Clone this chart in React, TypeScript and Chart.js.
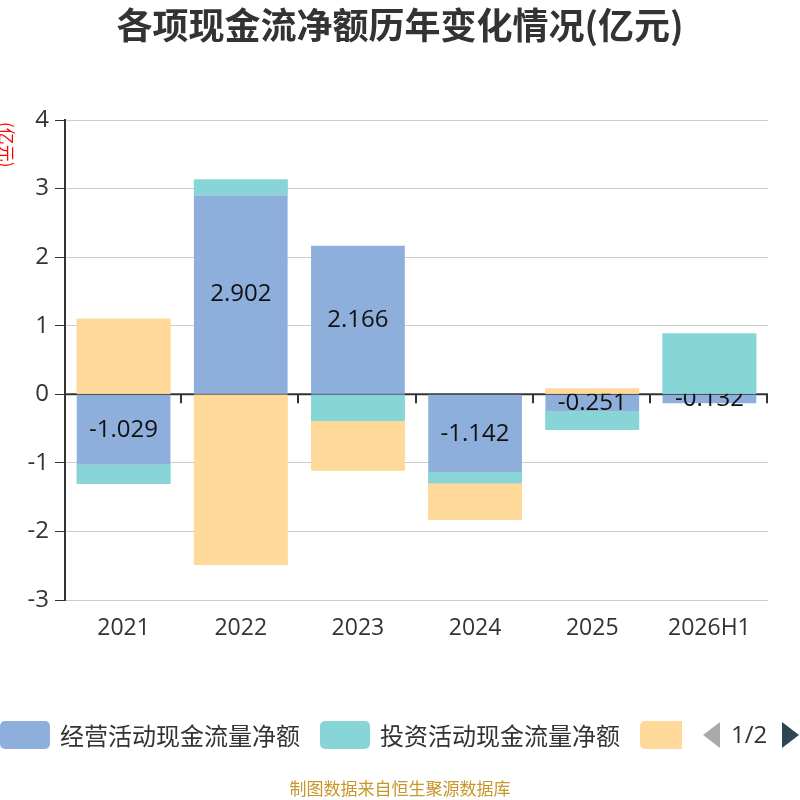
import React, { useEffect, useRef } from "react";
import { Chart, registerables } from "chart.js";

Chart.register(...registerables);

const categories = ["2021", "2022", "2023", "2024", "2025", "2026H1"];
const operating = [-1.029, 2.902, 2.166, -1.142, -0.251, -0.132];
const investing = [-0.28, 0.23, -0.39, -0.16, -0.27, 0.885];
const financing = [1.1, -2.49, -0.72, -0.53, 0.083, 0];
const seriesNames = ["经营活动现金流量净额", "投资活动现金流量净额", "筹资活动现金流量净额"];
const seriesColors = ["#8EAFDB", "#88D5D8", "#FFD99A"];
const titleText = "各项现金流净额历年变化情况(亿元)";
const unitText = "(亿元)";
const sourceText = "制图数据来自恒生聚源数据库";
const yMin = -3;
const yMax = 4;

const FONT = "'Open Sans', 'Noto Sans CJK SC', sans-serif";
const CJK = "'Noto Sans CJK SC', 'Open Sans', sans-serif";

const decorPlugin = {
  id: "decor",
  beforeDatasetsDraw(chart: any) {
    const { ctx, chartArea, scales } = chart;
    const y0 = scales.y.getPixelForValue(0);
    ctx.save();
    ctx.strokeStyle = "#333";
    ctx.lineWidth = 2;
    ctx.beginPath();
    ctx.moveTo(chartArea.left, y0);
    ctx.lineTo(chartArea.right, y0);
    ctx.stroke();
    const n = categories.length;
    const w = (chartArea.right - chartArea.left) / n;
    for (let i = 1; i <= n; i++) {
      const x = Math.round(chartArea.left + i * w) - 1;
      ctx.beginPath();
      ctx.moveTo(x, y0);
      ctx.lineTo(x, y0 + 9);
      ctx.stroke();
    }
    ctx.restore();
  },
  afterDatasetsDraw(chart: any) {
    const { ctx } = chart;
    const meta = chart.getDatasetMeta(0);
    ctx.save();
    ctx.font = `24px ${FONT}`;
    ctx.fillStyle = "#111";
    ctx.textAlign = "center";
    ctx.textBaseline = "middle";
    meta.data.forEach((bar: any, i: number) => {
      const cy = (bar.y + bar.base) / 2;
      ctx.fillText(operating[i].toFixed(3), bar.x, cy);
    });
    ctx.restore();
    chart.getDatasetMeta(1).controller.draw();
    chart.getDatasetMeta(2).controller.draw();
  },
  afterDraw(chart: any) {
    const { ctx } = chart;
    ctx.save();
    ctx.font = `bold 36px ${CJK}`;
    ctx.fillStyle = "#333";
    ctx.textAlign = "center";
    ctx.textBaseline = "middle";
    ctx.fillText(titleText, 400, 25);
    ctx.translate(6, 122);
    ctx.rotate(Math.PI / 2);
    ctx.font = `17px ${CJK}`;
    ctx.fillStyle = "#f00";
    ctx.textAlign = "left";
    ctx.textBaseline = "middle";
    ctx.fillText(unitText, 0, 0);
    ctx.restore();
  },
};

export default function App() {
  const ref = useRef<HTMLCanvasElement>(null);
  useEffect(() => {
    if (!ref.current) return;
    const chart = new Chart(ref.current, {
      type: "bar",
      data: {
        labels: categories,
        datasets: [
          { label: seriesNames[0], data: operating, backgroundColor: seriesColors[0], borderWidth: 0 },
          { label: seriesNames[1], data: investing, backgroundColor: seriesColors[1], borderWidth: 0 },
          { label: seriesNames[2], data: financing, backgroundColor: seriesColors[2], borderWidth: 0 },
        ],
      },
      options: {
        responsive: false,
        animation: false,
        devicePixelRatio: 1,
        layout: { padding: { top: 120, left: 0, right: 32, bottom: 160 } },
        datasets: { bar: { barPercentage: 0.8, categoryPercentage: 1 } },
        plugins: { legend: { display: false }, tooltip: { enabled: false }, title: { display: false } },
        scales: {
          x: {
            stacked: true,
            grid: { display: false },
            border: { display: false },
            ticks: { color: "#333", font: { size: 23, family: FONT }, padding: 7, maxRotation: 0 },
            afterFit: (s: any) => { s.height = 40; },
          },
          y: {
            stacked: true,
            min: yMin,
            max: yMax,
            grid: { color: "#ccc", lineWidth: 1, tickColor: "#333", tickLength: 10 },
            border: { color: "#333", width: 2 },
            ticks: { stepSize: 1, color: "#333", font: { size: 24, family: FONT }, padding: 6 },
            afterFit: (s: any) => { s.width = 65; },
          },
        },
      },
      plugins: [decorPlugin],
    } as any);
    return () => chart.destroy();
  }, []);

  const box = (left: number, color: string, width = 50) => (
    <div style={{ position: "absolute", left, top: 721, width, height: 28, background: color, borderRadius: width < 50 ? "5px 0 0 5px" : 5 }} />
  );
  const txt = (left: number, s: string) => (
    <div style={{ position: "absolute", left, top: 717, fontFamily: CJK, fontSize: 24, lineHeight: "36px", color: "#333", whiteSpace: "nowrap" }}>{s}</div>
  );

  return (
    <div style={{ position: "absolute", left: 0, top: 0, width: 800, height: 800, background: "#fff", overflow: "hidden" }}>
      <canvas ref={ref} width={800} height={800} style={{ display: "block" }} />
      {box(0, seriesColors[0])}
      {txt(60, seriesNames[0])}
      {box(320, seriesColors[1])}
      {txt(380, seriesNames[1])}
      {box(640, seriesColors[2], 42)}
      <div style={{ position: "absolute", left: 703, top: 722, width: 0, height: 0, borderTop: "13px solid transparent", borderBottom: "13px solid transparent", borderRight: "17px solid #aaa" }} />
      <div style={{ position: "absolute", left: 731, top: 716, fontFamily: FONT, fontSize: 24, lineHeight: "36px", color: "#333" }}>1/2</div>
      <div style={{ position: "absolute", left: 782, top: 722, width: 0, height: 0, borderTop: "13px solid transparent", borderBottom: "13px solid transparent", borderLeft: "17px solid #2f4554" }} />
      <div style={{ position: "absolute", left: 0, top: 776, width: 800, textAlign: "center", fontFamily: CJK, fontSize: 17, lineHeight: "24px", color: "#C8962A" }}>{sourceText}</div>
    </div>
  );
}
